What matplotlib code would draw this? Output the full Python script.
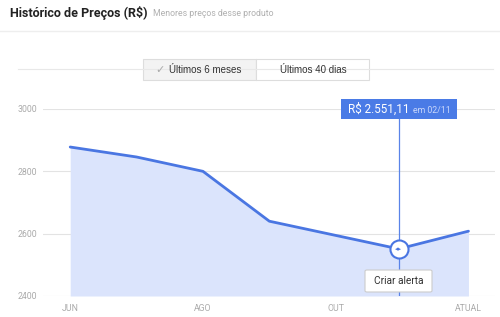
import matplotlib
matplotlib.use("Agg")
import matplotlib.pyplot as plt
from matplotlib.patches import Rectangle, FancyBboxPatch
from matplotlib.lines import Line2D

# price history (month index, R$)
months = [0, 1, 2, 3, 4.95, 6]
prices = [2878, 2846, 2800, 2640, 2551.11, 2608]
tick_pos = [0, 2, 4, 6]
tick_labels = ["JUN", "AGO", "OUT", "ATUAL"]
y_ticks = [2400, 2600, 2800, 3000]
sel_idx = 4
sel_label = "R$ 2.551,11"
sel_date = "em 02/11"

BLUE = "#4a76e2"
FILL = "#dbe4fc"
W, H = 500, 317

plt.rcParams['font.family'] = ['Roboto', 'DejaVu Sans']

fig = plt.figure(figsize=(5, 3.17), dpi=100)


def fx(px):
    return px / W


def fy(py):
    return 1 - py / H


# header
fig.text(fx(10), fy(13), "Histórico de Preços (R$)", fontsize=9, fontweight="bold",
         color="#222222", va="center", ha="left")
fig.text(fx(153), fy(14), "Menores preços desse produto", fontsize=6.3,
         color="#b0b0b0", va="center", ha="left")
fig.add_artist(Line2D([0, 1], [fy(31), fy(31)], color="#eeeeee", lw=1))
fig.add_artist(Line2D([fx(18), fx(493)], [fy(69), fy(69)], color="#e8e8e8", lw=0.8))

# toggle buttons
fig.add_artist(Rectangle((fx(143), fy(80)), fx(113), 21 / H, facecolor="#f3f3f3",
                         edgecolor="#dddddd", lw=0.8))
fig.add_artist(Rectangle((fx(256), fy(80)), fx(113), 21 / H, facecolor="white",
                         edgecolor="#dddddd", lw=0.8))
fig.text(fx(160), fy(70), "✓", fontsize=8, color="#aaaaaa", va="center", ha="center",
         family=["DejaVu Sans"])
fig.text(fx(169), fy(70), "Últimos 6 meses", fontsize=7, color="#333333", va="center",
         ha="left", family=["Liberation Sans"])
fig.text(fx(313), fy(70), "Últimos 40 dias", fontsize=7, color="#333333", va="center",
         ha="center", family=["Liberation Sans"])

# chart
ax = fig.add_axes([fx(43), fy(296), fx(495) - fx(43), (296 - 109) / H])
ax.set_xlim(-0.41, 6.4)
ax.set_ylim(2400, 3000)
ax.fill_between(months, prices, 2400, color=FILL, lw=0, zorder=1)
ax.plot(months, prices, color=BLUE, lw=2, zorder=3, solid_capstyle="round")
for s in ax.spines.values():
    s.set_visible(False)
ax.set_yticks(y_ticks)
ax.set_xticks(tick_pos)
ax.set_xticklabels(tick_labels)
ax.tick_params(length=0, labelsize=6.3, labelcolor="#aaaaaa")
ax.tick_params(axis="y", pad=4)
ax.tick_params(axis="x", pad=6)
ax.grid(axis="y", color="#e3e3e3", lw=0.8, zorder=0)
ax.set_axisbelow(True)

# selected point
sx, sy = months[sel_idx], prices[sel_idx]
ax.plot([sx, sx], [2400, 3000], color="#5a84e8", lw=0.9, zorder=2)
ax.plot([sx], [sy], marker="o", ms=13, mfc="white", mec=BLUE, mew=1.5, zorder=5)
ax.text(sx, sy, "◂▸", fontsize=5, color=BLUE, ha="center", va="center", zorder=6,
        family=["DejaVu Sans"])

# tooltip
fig.add_artist(Rectangle((fx(341), fy(119)), fx(116), 20 / H, facecolor="#4a7be6",
                         edgecolor="none", zorder=10))
fig.text(fx(348), fy(109), sel_label, fontsize=8.4, color="white", va="center",
         ha="left", zorder=11)
fig.text(fx(413), fy(110), sel_date, fontsize=6.3, color="#c9d7fb", va="center",
         ha="left", zorder=11)

# "Criar alerta" button
fig.add_artist(FancyBboxPatch((fx(365), fy(292)), fx(67), 22 / H,
                              boxstyle="round,pad=0,rounding_size=0.004",
                              facecolor="white", edgecolor="#cccccc", lw=0.8, zorder=10))
fig.text(fx(398.5), fy(281), "Criar alerta", fontsize=7.3, color="#333333",
         va="center", ha="center", zorder=11)

fig.savefig("out.png", dpi=100)
